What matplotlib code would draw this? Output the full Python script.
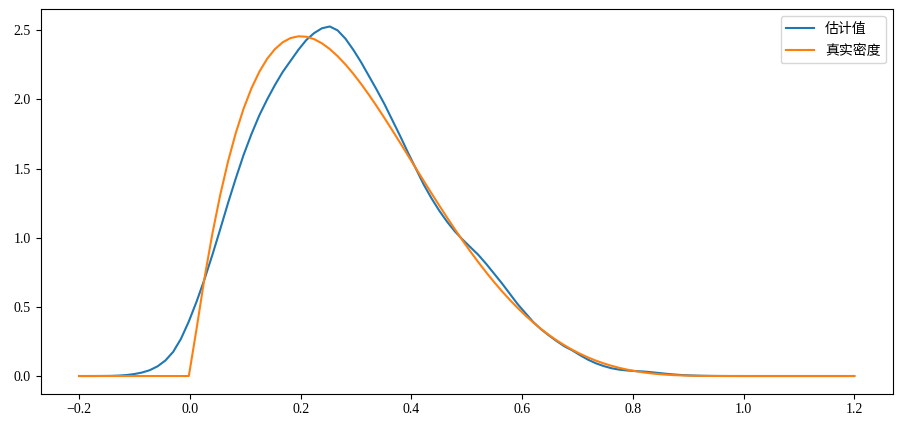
import numpy as np
import matplotlib
matplotlib.use("Agg")
import matplotlib.pyplot as plt

plt.rcParams['font.family'] = ['Liberation Serif', 'Noto Sans CJK SC']
plt.rcParams['axes.unicode_minus'] = True

# grid of 100 evaluation points from -0.2 to 1.2
x_start, x_end, n_points = -0.2, 1.2, 100

series_labels = ["估计值", "真实密度"]

# estimated density
estimate = [
    0.0, 0.0, 0.0001, 0.0005, 0.001, 0.003, 0.007, 0.014, 0.025, 0.042,
    0.07, 0.112, 0.175, 0.27, 0.395, 0.54, 0.70, 0.875, 1.06, 1.25,
    1.43, 1.60, 1.75, 1.885, 2.0, 2.105, 2.20, 2.28, 2.36, 2.43,
    2.48, 2.515, 2.528, 2.50, 2.44, 2.36, 2.27, 2.17, 2.07, 1.965,
    1.85, 1.735, 1.615, 1.50, 1.385, 1.285, 1.195, 1.115, 1.045, 0.985,
    0.93, 0.875, 0.81, 0.74, 0.67, 0.595, 0.52, 0.455, 0.39, 0.338,
    0.293, 0.252, 0.214, 0.185, 0.150, 0.118, 0.092, 0.072, 0.056, 0.046,
    0.040, 0.036, 0.033, 0.028, 0.022, 0.016, 0.011, 0.007, 0.0045, 0.0027,
    0.0015, 0.0008, 0.0004, 0.0002, 0.0001, 0.0, 0.0, 0.0, 0.0, 0.0,
    0.0, 0.0, 0.0, 0.0, 0.0, 0.0, 0.0, 0.0, 0.0, 0.0,
]

# true density
true_density = [
    0.0, 0.0, 0.0, 0.0, 0.0, 0.0, 0.0, 0.0, 0.0, 0.0,
    0.0, 0.0, 0.0, 0.0, 0.0, 0.3463, 0.7083, 1.0278, 1.3075, 1.5502,
    1.7583, 1.9345, 2.0810, 2.2001, 2.2940, 2.3646, 2.4141, 2.4443, 2.4570, 2.4538,
    2.4364, 2.4063, 2.3649, 2.3136, 2.2538, 2.1865, 2.1130, 2.0342, 1.9512, 1.8649,
    1.7762, 1.6858, 1.5945, 1.5028, 1.4116, 1.3212, 1.2322, 1.1450, 1.0600, 0.9776,
    0.8981, 0.8217, 0.7486, 0.6790, 0.6131, 0.5509, 0.4925, 0.4379, 0.3871, 0.3402,
    0.2970, 0.2575, 0.2216, 0.1892, 0.1601, 0.1342, 0.1112, 0.0912, 0.0738, 0.0588,
    0.0462, 0.0356, 0.0268, 0.0197, 0.0141, 0.0097, 0.0065, 0.0041, 0.0024, 0.0013,
    0.0006, 0.00025, 0.00008, 0.00001, 0.0, 0.0, 0.0, 0.0, 0.0, 0.0,
    0.0, 0.0, 0.0, 0.0, 0.0, 0.0, 0.0, 0.0, 0.0, 0.0,
]

x = np.linspace(x_start, x_end, n_points)

fig = plt.figure(figsize=(9.02, 4.30), dpi=100)
ax = fig.add_axes([40.5 / 902, 36.5 / 430, 852.5 / 902, 384.5 / 430])
ax.plot(x, estimate, color='#1f77b4', label=series_labels[0])
ax.plot(x, true_density, color='#ff7f0e', label=series_labels[1])
ax.legend(loc='upper right', prop={'family': ['Noto Sans CJK SC'], 'size': 10},
          labelspacing=0.6)
ax.tick_params(labelsize=10)

fig.savefig('out.png', dpi=100)
